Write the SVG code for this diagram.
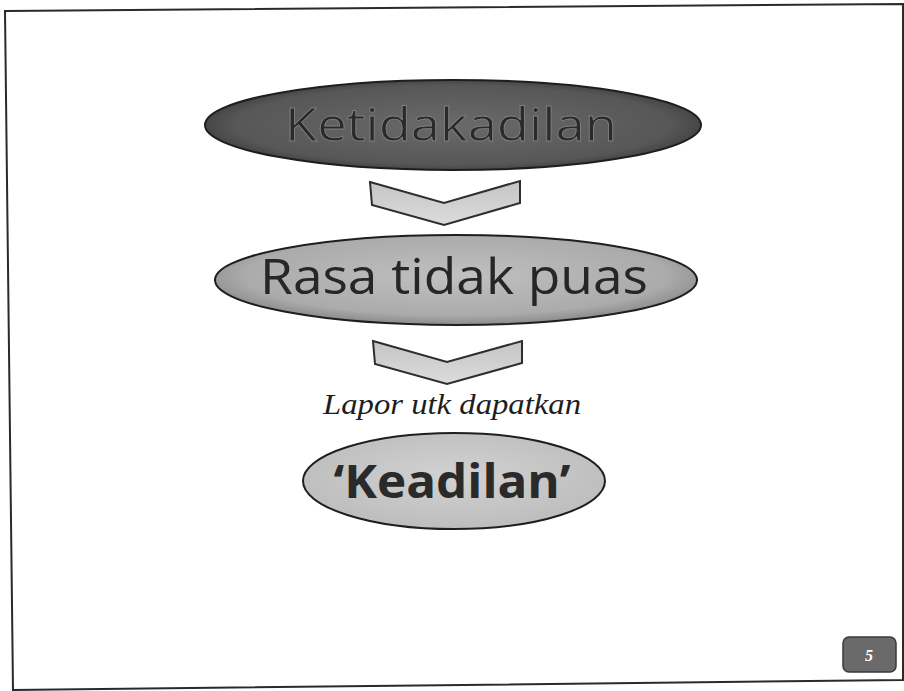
<svg xmlns="http://www.w3.org/2000/svg" width="904" height="691" viewBox="0 0 904 691">
  <style>
    .lbl { font-family: "Open Sans", "Noto Sans", "DejaVu Sans", sans-serif; text-anchor: middle; }
    .chev { fill: #d2d2d2; stroke: #2e2e2e; stroke-width: 2; stroke-linejoin: miter; }
    .node-edge { stroke: #1e1e1e; stroke-width: 2; }
  </style>
  <defs>
    <radialGradient id="g1" cx="50%" cy="50%" r="55%">
      <stop offset="0" stop-color="#6a6a6a"/>
      <stop offset="0.8" stop-color="#575757"/>
      <stop offset="1" stop-color="#383838"/>
    </radialGradient>
    <radialGradient id="g2" cx="50%" cy="45%" r="55%">
      <stop offset="0" stop-color="#c0c0c0"/>
      <stop offset="0.8" stop-color="#ababab"/>
      <stop offset="1" stop-color="#8a8a8a"/>
    </radialGradient>
    <radialGradient id="g3" cx="50%" cy="45%" r="55%">
      <stop offset="0" stop-color="#d2d2d2"/>
      <stop offset="1" stop-color="#bdbdbd"/>
    </radialGradient>
    <linearGradient id="gc" x1="0" y1="0" x2="0" y2="1">
      <stop offset="0" stop-color="#c4c4c4"/>
      <stop offset="1" stop-color="#dcdcdc"/>
    </linearGradient>
  </defs>
  <rect width="904" height="691" fill="#ffffff"/>
  <polygon points="5,11 903,4 903,680 13,690" fill="none" stroke="#2a2a2a" stroke-width="2"/>

  <g id="node-ketidakadilan">
    <ellipse cx="453" cy="125" rx="248" ry="45" fill="url(#g1)" class="node-edge"/>
    <text x="451" y="141" class="lbl" font-size="46" fill="#2a2a2a" stroke="#808080" stroke-width="0.8" textLength="332" lengthAdjust="spacingAndGlyphs">Ketidakadilan</text>
  </g>

  <g id="node-rasa">
    <ellipse cx="456" cy="280" rx="241" ry="45" fill="url(#g2)" class="node-edge"/>
    <text x="454" y="294" class="lbl" font-size="50" fill="#262626" textLength="388" lengthAdjust="spacingAndGlyphs">Rasa tidak puas</text>
  </g>

  <g id="node-keadilan">
    <ellipse cx="454" cy="481" rx="151" ry="48" fill="url(#g3)" class="node-edge"/>
    <text x="452" y="498" class="lbl" font-size="46" font-weight="bold" fill="#2a2a2a" textLength="237" lengthAdjust="spacingAndGlyphs">‘Keadilan’</text>
  </g>

  <g id="connectors">
    <polygon class="chev" fill="url(#gc)" style="fill:url(#gc)" points="370,182 444,203 520,181 520,203 444,225 372,205"/>
    <polygon class="chev" style="fill:url(#gc)" points="373,341 447,362 522,341 522,363 447,384 375,364"/>
    <text x="452" y="414" font-family="'Liberation Serif', 'DejaVu Serif', serif" font-style="italic" font-size="30" fill="#1e1e1e" text-anchor="middle" textLength="258" lengthAdjust="spacingAndGlyphs">Lapor utk dapatkan</text>
  </g>

  <g id="page-number">
    <rect x="843" y="637" width="53" height="35" rx="6" fill="#6a6a6a" stroke="#3a3a3a" stroke-width="1.5"/>
    <text x="869" y="661" font-family="'Liberation Serif', serif" font-style="italic" font-weight="bold" font-size="16" fill="#ffffff" text-anchor="middle">5</text>
  </g>
</svg>
